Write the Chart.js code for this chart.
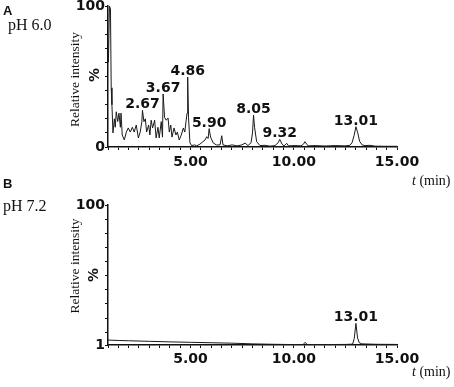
<!DOCTYPE html>
<html><head><meta charset="utf-8">
<script src="https://cdn.jsdelivr.net/npm/chart.js@4.4.1/dist/chart.umd.min.js"></script>
<style>
html,body{margin:0;padding:0;background:#fff;}
#wrap{position:relative;width:454px;height:387px;overflow:hidden;background:#fff;}
canvas{position:absolute;left:0;}
</style></head><body>
<div id="wrap">
<canvas id="cA" width="454" height="190" style="top:0px"></canvas>
<canvas id="cB" width="454" height="197" style="top:190px"></canvas>
</div>
<script>
// ---- Data ----
const timesA = [1.02,1.07,1.12,1.155,1.19,1.24,1.31,1.35,1.40,1.47,1.53,1.60,1.63,1.69,1.79,1.89,1.98,2.08,2.18,2.27,2.37,2.47,2.56,2.64,2.67,2.74,2.81,2.87,2.97,3.03,3.09,3.16,3.26,3.33,3.42,3.48,3.58,3.64,3.67,3.74,3.82,3.91,3.97,4.04,4.10,4.20,4.29,4.36,4.45,4.55,4.65,4.72,4.78,4.83,4.86,4.90,4.97,5.05,5.20,5.30,5.45,5.60,5.70,5.78,5.85,5.90,5.97,6.10,6.26,6.43,6.51,6.57,6.77,7.01,7.25,7.49,7.64,7.78,7.93,8.00,8.05,8.10,8.20,8.36,8.61,8.85,9.09,9.24,9.32,9.43,9.53,9.66,9.74,10.06,10.35,10.47,10.54,10.63,10.69,11.03,11.51,12.00,12.48,12.72,12.82,12.92,13.01,13.10,13.19,13.31,13.45,13.69,13.94,14.42,15.00];
const intensityA = [60,100,98,42,30,10,20,14,25,18,24,14,24,8.5,5,10.6,13.5,10.6,14,10.6,15.6,6.4,10.6,18,26,18,20,10.6,15.6,8.5,19,13.5,19,6.4,14,6.4,18,7,37.6,21,19,20.5,10.6,15.6,7,13.5,8.5,10.6,5,8.5,13.5,10.6,18,24,49.6,21,3,1,1.5,0.8,2,3.8,5,7.3,6,13,7,2.8,1.4,1.5,8,1.5,0.8,1.5,0.8,1.5,2.8,1,3,10,22.7,14,3.8,1,1.2,0.6,1,3,5.4,2,0.8,2.6,0.8,1,0.8,2,3.8,2,0.8,1,0.7,1,0.8,1.2,3,8,14.4,10,4,1.5,1,1.2,0.6,0.5,0.5];

const timesB = [1.00,1.50,2.00,3.00,4.00,5.00,6.00,7.00,8.00,9.00,10.00,10.45,10.55,10.65,11.50,12.50,12.85,12.93,13.01,13.09,13.17,13.30,14.00,15.00];
const intensityB = [4.5,4.2,4.0,3.6,3.2,2.9,2.6,2.3,1.8,1.5,1.3,1.3,2.9,1.3,1.3,1.4,1.6,5.7,16.3,6,2.6,1.8,1.5,1.4];

const peakLabelsA = ['2.67','3.67','4.86','5.90','8.05','9.32','13.01'];
const peakTimesA = [2.67,3.67,4.86,5.90,8.05,9.32,13.01];
const peakHeightsA = [26,37.6,49.6,13,22.7,5.4,14.4];
const peakLabelsB = ['13.01'];
const peakTimesB = [13.01];
const peakHeightsB = [16.3];

const xTickValues = [5,10,15];
const xTickLabels = ['5.00','10.00','15.00'];
const yTickValuesA = [0,10,20,30,40,50,60,70,80,90,100];
const yTickLabelsA = {0:'0',100:'100'};
const yTickValuesB = [1,10,20,30,40,50,60,70,80,90,100];
const yTickLabelsB = {1:'1',100:'100'};

// ---- helpers ----
function xLabel(v){
  for (let i=0;i<xTickValues.length;i++) if (Math.abs(v-xTickValues[i])<1e-6) return xTickLabels[i];
  return '';
}
const TICK_FONT = {family:'"DejaVu Sans"', size:14, weight:'bold', lineHeight:0.85};
const INK = '#111';

const textPlugin = {
  id:'panelText',
  afterDraw(chart, args, o){
    const ctx = chart.ctx, xs = chart.scales.x, ys = chart.scales.y;
    ctx.save();
    ctx.fillStyle = INK;
    // peak labels
    ctx.font = 'bold 14px "DejaVu Sans"';
    ctx.textAlign = 'center'; ctx.textBaseline = 'alphabetic';
    o.peakLabels.forEach((lab,i)=>{
      const x = xs.getPixelForValue(o.peakTimes[i]);
      const y = ys.getPixelForValue(o.peakHeights[i]) - 2;
      ctx.fillText(lab, x, y);
    });
    // panel letter(s)
    ctx.textAlign = 'left';
    ctx.font = 'bold 13px "Liberation Sans"';
    (o.letters||[]).forEach(l=>ctx.fillText(l.t, l.x, l.y));
    // pH label
    ctx.font = '16px "Liberation Serif"';
    ctx.fillText(o.ph.t, o.ph.x, o.ph.y);
    // t (min)
    ctx.font = 'italic 14px "Liberation Serif"';
    ctx.fillText('t', o.tmin.x, o.tmin.y);
    const tw = ctx.measureText('t').width;
    ctx.font = '14px "Liberation Serif"';
    ctx.fillText(' (min)', o.tmin.x + tw, o.tmin.y);
    // rotated axis texts
    ctx.textAlign = 'center'; ctx.textBaseline = 'middle';
    ctx.save();
    ctx.translate(o.rel.x, o.rel.y); ctx.rotate(-Math.PI/2);
    ctx.font = '13.5px "Liberation Serif"';
    ctx.fillText('Relative intensity', 0, 0);
    ctx.restore();
    ctx.save();
    ctx.translate(o.pct.x, o.pct.y); ctx.rotate(-Math.PI/2);
    ctx.font = 'bold 14px "DejaVu Sans"';
    ctx.fillText('%', 0, 0);
    ctx.restore();
    ctx.restore();
  }
};

function makeChart(id, times, vals, cfg){
  return new Chart(document.getElementById(id), {
    type:'line',
    data:{datasets:[{
      data: times.map((t,i)=>({x:t, y:vals[i]})),
      borderColor:'#1a1a1a', borderWidth:1, pointRadius:0, tension:0, fill:false
    }]},
    options:{
      responsive:false, devicePixelRatio:1, animation:false,
      layout:{padding:{left:0,right:57,top:cfg.padTop,bottom:0}},
      plugins:{legend:{display:false}, tooltip:{enabled:false}, panelText: cfg.text},
      scales:{
        x:{type:'linear', min:1, max:15,
          ticks:{stepSize:0.5, autoSkip:false, maxRotation:0, minRotation:0, padding:cfg.xPad, font:TICK_FONT, color:INK, callback:v=>xLabel(v)},
          grid:{display:true, drawOnChartArea:false, drawTicks:true, tickLength:3, color:INK, lineWidth:1},
          border:{display:true, color:INK, width:1.5},
          afterFit:s=>{ s.height = cfg.xAxisHeight; }
        },
        y:{type:'linear', min:cfg.yMin, max:100,
          afterBuildTicks:s=>{ s.ticks = cfg.yTicks.map(v=>({value:v})); },
          ticks:{autoSkip:false, padding:0, font:TICK_FONT, color:INK, callback:v=>(cfg.yLabels[v]!==undefined?cfg.yLabels[v]:'')},
          grid:{display:true, drawOnChartArea:false, drawTicks:true, tickLength:3, color:INK, lineWidth:1},
          border:{display:true, color:INK, width:1.5},
          afterFit:s=>{ s.width = 108; }
        }
      }
    },
    plugins:[textPlugin]
  });
}

makeChart('cA', timesA, intensityA, {
  padTop:6, xAxisHeight:43, xPad:6, yMin:0, yTicks:yTickValuesA, yLabels:yTickLabelsA,
  text:{peakLabels:peakLabelsA, peakTimes:peakTimesA, peakHeights:peakHeightsA,
    letters:[{t:'A',x:3,y:15},{t:'B',x:3,y:188}],
    ph:{t:'pH 6.0',x:8,y:30}, tmin:{x:412,y:185}, rel:{x:75,y:79.5}, pct:{x:95,y:75}}
});
makeChart('cB', timesB, intensityB, {
  padTop:15, xAxisHeight:42, xPad:5, yMin:1, yTicks:yTickValuesB, yLabels:yTickLabelsB,
  text:{peakLabels:peakLabelsB, peakTimes:peakTimesB, peakHeights:peakHeightsB,
    letters:[],
    ph:{t:'pH 7.2',x:3,y:20.5}, tmin:{x:412,y:186}, rel:{x:75,y:76}, pct:{x:94,y:85}}
});
</script>
</body></html>
